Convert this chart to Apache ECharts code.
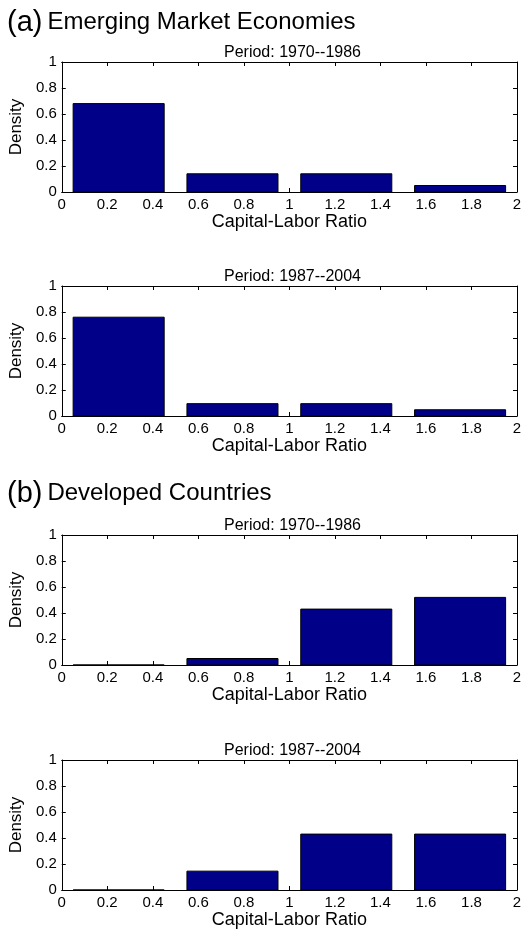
<!DOCTYPE html>
<html>
<head>
<meta charset="utf-8">
<script src="https://cdn.jsdelivr.net/npm/echarts@6/dist/echarts.min.js"></script>
<style>
  html, body { margin: 0; padding: 0; background: #fff; }
  #histChart { width: 529px; height: 933px; }
</style>
</head>
<body>
<div id="histChart"></div>
<script>
// bin centres of the histogram (capital-labor ratio)
var binCenters = [0.25, 0.75, 1.25, 1.75];
var binWidth = 0.4;

// densities
var emergingEarly = [0.68, 0.14, 0.14, 0.05];
var emergingLate = [0.76, 0.095, 0.095, 0.048];
var developedEarly = [0, 0.05, 0.43, 0.52];
var developedLate = [0, 0.145, 0.43, 0.43];

var panelTitles = ['Period: 1970--1986', 'Period: 1987--2004', 'Period: 1970--1986', 'Period: 1987--2004'];
var panelData = [emergingEarly, emergingLate, developedEarly, developedLate];
var panelTops = [62, 286, 535, 760];

var font = 'Liberation Sans, Arial, Helvetica, sans-serif';

var histChart = echarts.init(document.getElementById('histChart'));

function renderBar(params, api) {
    var c = api.value(0), v = api.value(1);
    var p0 = api.coord([c - binWidth / 2, v]);
    var p1 = api.coord([c + binWidth / 2, 0]);
    return {
        type: 'rect',
        shape: { x: p0[0], y: p0[1], width: p1[0] - p0[0], height: p1[1] - p0[1] },
        style: { fill: '#000088', stroke: '#000', lineWidth: 1 }
    };
}

var headingRich = {
    p: { fontSize: 29, fontFamily: font, color: '#000', fontWeight: 'normal' },
    h: { fontSize: 24, fontFamily: font, color: '#000', fontWeight: 'normal' }
};

var grids = [], xAxes = [], yAxes = [], series = [];
var titles = [
    // section headings
    { text: '{p|(a)} {h|Emerging Market Economies}', left: 2, top: 3, textStyle: { rich: headingRich } },
    { text: '{p|(b)} {h|Developed Countries}', left: 2, top: 474, textStyle: { rich: headingRich } }
];

panelData.forEach(function (vals, i) {
    grids.push({ left: 58, top: panelTops[i], width: 459, height: 130 });
    titles.push({
        text: panelTitles[i], left: 287.5, textAlign: 'center', top: panelTops[i] - 22,
        textStyle: { fontSize: 16, fontWeight: 'normal', fontFamily: font, color: '#000' }
    });
    // bottom / top x axes make the box
    xAxes.push({
        type: 'value', gridIndex: i, min: 0, max: 2, interval: 0.2,
        name: 'Capital-Labor Ratio', nameLocation: 'middle', nameGap: 20,
        nameTextStyle: { fontSize: 18, fontFamily: font, color: '#000' },
        axisLine: { onZero: false, lineStyle: { color: '#000', width: 1 } },
        axisTick: { inside: true, length: 4, lineStyle: { color: '#000' } },
        axisLabel: { fontSize: 15, fontFamily: font, color: '#000', margin: 5 },
        splitLine: { show: false }
    });
    xAxes.push({
        type: 'value', gridIndex: i, position: 'top', min: 0, max: 2, interval: 0.2,
        axisLine: { onZero: false, lineStyle: { color: '#000', width: 1 } },
        axisTick: { inside: true, length: 4, lineStyle: { color: '#000' } },
        axisLabel: { show: false }, splitLine: { show: false }
    });
    yAxes.push({
        type: 'value', gridIndex: i, min: 0, max: 1, interval: 0.2,
        name: 'Density', nameLocation: 'middle', nameGap: 34,
        nameTextStyle: { fontSize: 17, fontFamily: font, color: '#000' },
        axisLine: { show: true, onZero: false, lineStyle: { color: '#000', width: 1 } },
        axisTick: { show: true, inside: true, length: 4, lineStyle: { color: '#000' } },
        axisLabel: { fontSize: 15, fontFamily: font, color: '#000', margin: 5 },
        splitLine: { show: false }
    });
    yAxes.push({
        type: 'value', gridIndex: i, position: 'right', min: 0, max: 1, interval: 0.2,
        axisLine: { show: true, onZero: false, lineStyle: { color: '#000', width: 1 } },
        axisTick: { show: true, inside: true, length: 4, lineStyle: { color: '#000' } },
        axisLabel: { show: false }, splitLine: { show: false }
    });
    series.push({
        type: 'custom', xAxisIndex: i * 2, yAxisIndex: i * 2,
        renderItem: renderBar,
        data: binCenters.map(function (c, k) { return [c, vals[k]]; }),
        silent: true
    });
});

histChart.setOption({
    backgroundColor: '#fff',
    animation: false,
    title: titles,
    grid: grids,
    xAxis: xAxes,
    yAxis: yAxes,
    series: series
});

window.addEventListener('resize', function () {
    histChart.resize();
});
</script>
</body>
</html>
